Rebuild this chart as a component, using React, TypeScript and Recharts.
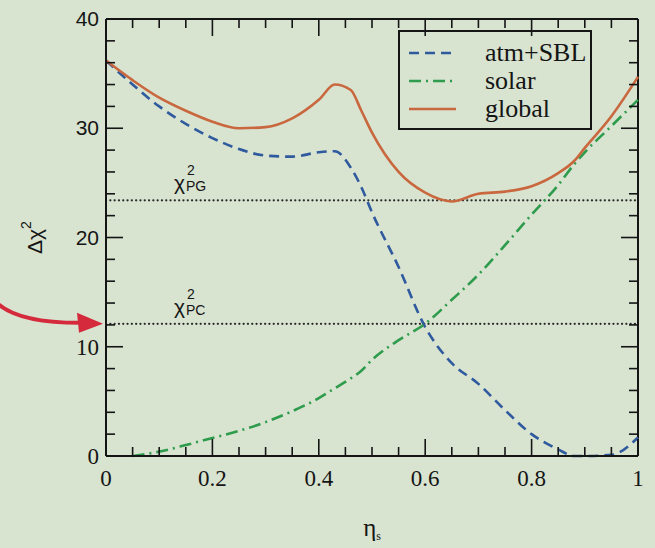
import React from 'react';
import { LineChart, Line, XAxis, YAxis, ReferenceLine, Legend } from 'recharts';

const eta = [0, 0.05, 0.1, 0.15, 0.2, 0.25, 0.3, 0.35, 0.4, 0.43, 0.46, 0.48, 0.5, 0.55, 0.6, 0.65, 0.7, 0.75, 0.8, 0.85, 0.88, 0.9, 0.95, 1];
const atmSBL = [36.2, 34.0, 32.0, 30.4, 29.1, 28.1, 27.5, 27.4, 27.8, 27.9, 26.4, 24.6, 22.3, 17.3, 11.8, 8.5, 6.6, 4.2, 2.0, 0.6, 0, 0, 0.1, 1.7];
const solar = [null, 0, 0.4, 1.0, 1.65, 2.3, 3.1, 4.1, 5.3, 6.2, 7.1, 7.8, 8.8, 10.6, 12.1, 14.3, 16.6, 19.3, 22.1, 24.8, 26.7, 27.8, 30.2, 32.6];
const globalFit = [36.2, 34.4, 32.8, 31.6, 30.6, 30.0, 30.1, 30.9, 32.6, 34.0, 33.5, 31.6, 29.6, 26.0, 24.1, 23.3, 24.0, 24.2, 24.7, 25.9, 27.0, 28.2, 31.1, 34.7];

// every tick mark along the axes; labelled ones are listed separately
const xTicks = [0, 0.05, 0.1, 0.15, 0.2, 0.25, 0.3, 0.35, 0.4, 0.45, 0.5, 0.55, 0.6, 0.65, 0.7, 0.75, 0.8, 0.85, 0.9, 0.95, 1];
const xLabels = ['0', '0.2', '0.4', '0.6', '0.8', '1'];
const yTicks = [0, 2, 4, 6, 8, 10, 12, 14, 16, 18, 20, 22, 24, 26, 28, 30, 32, 34, 36, 38, 40];
const yLabels = ['0', '10', '20', '30', '40'];
const chiPG = 23.4;
const chiPC = 12.1;

const data = eta.map((e, i) => ({ eta: e, atm: atmSBL[i], solar: solar[i], global: globalFit[i] }));

const W = 655;
const H = 548;
const M = { top: 19, right: 17, bottom: 62, left: 46 };
const Y_AXIS_W = 60;
const X_AXIS_H = 30;
const PLOT_W = W - M.left - M.right - Y_AXIS_W;
const PLOT_H = H - M.top - M.bottom - X_AXIS_H;

const BG = '#d8e3d0';
const INK = '#151515';
const SANS = '"Liberation Sans", Arial, sans-serif';
const SERIF = '"Liberation Serif", "Times New Roman", serif';

const order = ['atm', 'solar', 'global'];
const styles: Record<string, { color: string; dash?: string }> = {
  atm: { color: '#2f5a9e', dash: '10 6' },
  solar: { color: '#2e9c4c', dash: '12 5 2 5' },
  global: { color: '#c9683e' },
};

const YTick = (props: any) => {
  const { x, y, payload } = props;
  const label = yLabels.find((l) => Number(l) === payload.value);
  const len = label ? 17 : 9;
  const sans = payload.value >= 20;
  return (
    <g>
      <line x1={x} y1={y} x2={x + len} y2={y} stroke={INK} strokeWidth={1.6} />
      <line x1={x + PLOT_W} y1={y} x2={x + PLOT_W - len} y2={y} stroke={INK} strokeWidth={1.6} />
      {label && (
        <text x={x - 7} y={y} dy={sans ? 7 : 8} textAnchor="end" fill={INK}
          fontFamily={sans ? SANS : SERIF} fontSize={sans ? 21 : 23}>
          {label}
        </text>
      )}
    </g>
  );
};

const XTick = (props: any) => {
  const { x, y, payload } = props;
  const label = xLabels.find((l) => Math.abs(Number(l) - payload.value) < 1e-6);
  const len = label ? 17 : 9;
  return (
    <g>
      <line x1={x} y1={y} x2={x} y2={y - len} stroke={INK} strokeWidth={1.6} />
      <line x1={x} y1={y - PLOT_H} x2={x} y2={y - PLOT_H + len} stroke={INK} strokeWidth={1.6} />
      {label && (
        <text x={x} y={y} dy={30} textAnchor="middle" fill={INK} fontFamily={SERIF} fontSize={23}>
          {label}
        </text>
      )}
    </g>
  );
};

const chiLabel = (sub: string, arrow: boolean) => (props: any) => {
  const { x, y } = props.viewBox;
  const lx = x + 68;
  return (
    <g>
      <text x={lx} y={y - 10} fill={INK} fontFamily={SANS} fontSize={21}>χ</text>
      <text x={lx + 13} y={y - 25} fill={INK} fontFamily={SANS} fontSize={14}>2</text>
      <text x={lx + 12} y={y - 9} fill={INK} fontFamily={SANS} fontSize={14}>{sub}</text>
      {arrow && (
        <g>
          <path d={`M ${x - 108} ${y - 20} C ${x - 92} ${y - 6} ${x - 62} ${y - 1} ${x - 26} ${y - 1}`}
            fill="none" stroke="#d42a3c" strokeWidth={4} />
          <polygon points={`${x - 3},${y} ${x - 29},${y - 11} ${x - 27},${y + 9}`} fill="#d42a3c" />
        </g>
      )}
    </g>
  );
};

const renderLegend = (props: any) => {
  const items = [...(props.payload || [])].sort(
    (a: any, b: any) => order.indexOf(a.dataKey) - order.indexOf(b.dataKey)
  );
  return (
    <div style={{ width: 194, height: 100, border: `2px solid ${INK}`, boxSizing: 'border-box', position: 'relative' }}>
      {items.map((item: any, i: number) => {
        const s = styles[item.dataKey];
        return (
          <div key={i} style={{ position: 'absolute', left: 8, top: 7 + i * 28, height: 28, display: 'flex', alignItems: 'center' }}>
            <svg width={50} height={10}>
              <line x1={1} y1={5} x2={48} y2={5} stroke={s.color} strokeWidth={2.6} strokeDasharray={s.dash} />
            </svg>
            <span style={{ marginLeft: 27, fontFamily: SERIF, fontSize: 26, color: INK, lineHeight: '28px' }}>{item.value}</span>
          </div>
        );
      })}
    </div>
  );
};

export default function App() {
  return (
    <div style={{ position: 'absolute', left: 0, top: 0, width: W, height: H, background: BG }}>
      <LineChart width={W} height={H} data={data} margin={M}>
        <XAxis xAxisId="x" dataKey="eta" type="number" domain={[0, 1]} ticks={xTicks} interval={0}
          height={X_AXIS_H} tickLine={false} tickSize={0} tickMargin={0}
          axisLine={{ stroke: INK, strokeWidth: 2 }} tick={<XTick />}
          label={(p: any) => (
            <text x={p.viewBox.x + p.viewBox.width / 2} y={p.viewBox.y + 80} textAnchor="middle"
              fill={INK} fontFamily={SERIF} fontSize={25}>
              η<tspan fontSize={12} dy={4}>s</tspan>
            </text>
          )} />
        <YAxis yAxisId="y" type="number" domain={[0, 40]} ticks={yTicks} interval={0} width={Y_AXIS_W}
          tickLine={false} tickSize={0} tickMargin={0}
          axisLine={{ stroke: INK, strokeWidth: 2 }} tick={<YTick />}
          label={(p: any) => {
            const cx = p.viewBox.x - 11;
            const cy = p.viewBox.y + p.viewBox.height / 2;
            return (
              <text transform={`rotate(-90 ${cx} ${cy})`} x={cx} y={cy + 7} textAnchor="middle"
                fill={INK} fontFamily={SANS} fontSize={21}>
                Δχ<tspan fontSize={14} dy={-11}>2</tspan>
              </text>
            );
          }} />

        {/* top and right frame */}
        <ReferenceLine xAxisId="x" yAxisId="y" y={40} stroke={INK} strokeWidth={2} />
        <ReferenceLine xAxisId="x" yAxisId="y" x={1} stroke={INK} strokeWidth={2} />

        <ReferenceLine xAxisId="x" yAxisId="y" y={chiPG} stroke="#2a2a2a" strokeWidth={2.2}
          strokeDasharray="0.1 4.2" strokeLinecap="round" label={chiLabel('PG', false)} />
        <ReferenceLine xAxisId="x" yAxisId="y" y={chiPC} stroke="#2a2a2a" strokeWidth={2.2}
          strokeDasharray="0.1 4.2" strokeLinecap="round" label={chiLabel('PC', true)} />

        <Line xAxisId="x" yAxisId="y" type="monotone" dataKey="atm" name="atm+SBL" stroke={styles.atm.color}
          strokeWidth={2.6} strokeDasharray={styles.atm.dash} dot={false} isAnimationActive={false} />
        <Line xAxisId="x" yAxisId="y" type="monotone" dataKey="solar" name="solar" stroke={styles.solar.color}
          strokeWidth={2.6} strokeDasharray={styles.solar.dash} dot={false} isAnimationActive={false} />
        <Line xAxisId="x" yAxisId="y" type="monotone" dataKey="global" name="global" stroke={styles.global.color}
          strokeWidth={2.6} dot={false} isAnimationActive={false} />

        <Legend layout="vertical" align="center" verticalAlign="middle" content={renderLegend}
          wrapperStyle={{ left: 398, top: 30, width: 194, height: 100 }} />
      </LineChart>
    </div>
  );
}
